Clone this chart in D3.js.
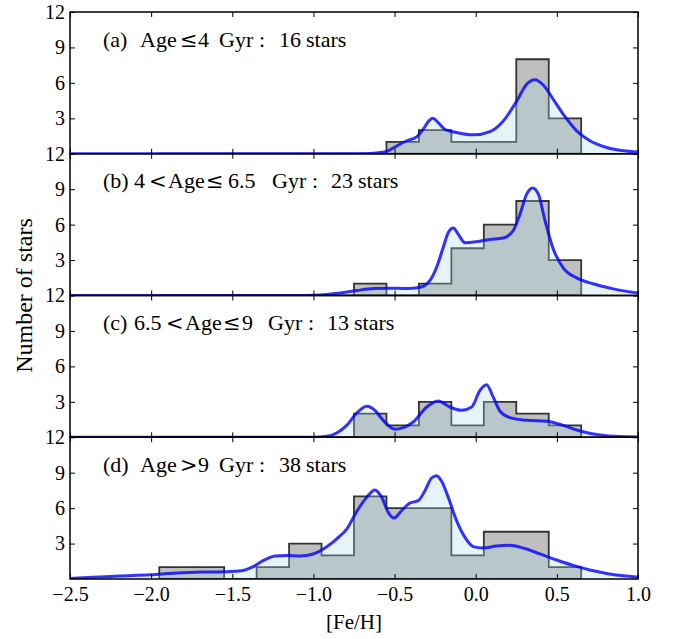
<!DOCTYPE html>
<html lang="en">
<head>
<meta charset="utf-8">
<title>[Fe/H] distribution by age</title>
<script src="https://cdnjs.cloudflare.com/ajax/libs/d3/7.8.5/d3.min.js"></script>
<style>
  body { margin: 0; background: #fff; }
  svg text { font-family: "Liberation Serif", "DejaVu Serif", serif; fill: #000; }
  tspan.sym { font-family: "DejaVu Serif", serif; font-size: 21px; }
</style>
</head>
<body>
<script>
// histogram bin edges in [Fe/H] (shared by all panels)
var binEdges = [-1.95, -1.75, -1.55, -1.35, -1.15, -0.95, -0.75, -0.55, -0.35, -0.15, 0.05, 0.25, 0.45, 0.65];

// star counts per bin
var histA = [0, 0, 0, 0, 0, 0, 0, 1, 2, 1, 1, 8, 3];
var histB = [0, 0, 0, 0, 0, 0, 1, 0, 1, 4, 6, 8, 3];
var histC = [0, 0, 0, 0, 0, 0, 2, 1, 3, 1, 3, 2, 1];
var histD = [1, 1, 0, 1, 3, 2, 7, 6, 6, 2, 4, 4, 1];

// smoothed density curves, [Fe/H, stars]
var kdeA = [[-2.5, 0], [-1.5, 0], [-0.8, 0], [-0.65, 0.02], [-0.6, 0.08], [-0.549, 0.2], [-0.487, 0.65],
  [-0.425, 1.1], [-0.364, 1.43], [-0.323, 2.08], [-0.292, 2.73], [-0.265, 3.01], [-0.231, 2.64],
  [-0.189, 2.05], [-0.117, 1.8], [-0.015, 1.6], [0.088, 1.88], [0.17, 2.78], [0.252, 4.45],
  [0.314, 5.88], [0.365, 6.27], [0.416, 5.82], [0.478, 4.61], [0.539, 3.35], [0.622, 1.94],
  [0.704, 1.1], [0.807, 0.53], [0.909, 0.25], [1.0, 0.15]];
var kdeB = [[-2.5, 0], [-1.5, 0], [-1.05, 0], [-0.918, 0.08], [-0.836, 0.22], [-0.733, 0.42],
  [-0.631, 0.59], [-0.528, 0.62], [-0.425, 0.59], [-0.343, 0.7], [-0.282, 1.27], [-0.241, 2.39],
  [-0.2, 4.08], [-0.169, 5.34], [-0.138, 5.71], [-0.108, 5.2], [-0.066, 4.47], [0.006, 4.56],
  [0.088, 4.75], [0.17, 4.87], [0.231, 5.49], [0.273, 6.89], [0.314, 8.58], [0.351, 9.09],
  [0.386, 8.58], [0.427, 6.33], [0.478, 3.94], [0.539, 2.34], [0.622, 1.49], [0.724, 0.99],
  [0.848, 0.56], [1.0, 0.2]];
var kdeC = [[-2.5, 0], [-1.5, 0], [-1.0, 0], [-0.918, 0.08], [-0.857, 0.36], [-0.795, 1.01],
  [-0.733, 2.05], [-0.672, 2.62], [-0.621, 2.28], [-0.57, 1.43], [-0.497, 0.68], [-0.446, 0.82],
  [-0.385, 1.29], [-0.302, 2.56], [-0.231, 3.07], [-0.159, 2.56], [-0.087, 2.28], [-0.025, 2.56],
  [0.026, 3.97], [0.067, 4.45], [0.108, 3.4], [0.149, 2.22], [0.211, 1.66], [0.314, 1.43],
  [0.437, 1.35], [0.539, 1.01], [0.642, 0.53], [0.766, 0.19], [0.889, 0.06], [1.0, 0.03]];
var kdeD = [[-2.5, 0.05], [-2.356, 0.14], [-2.192, 0.25], [-2.007, 0.36], [-1.843, 0.51],
  [-1.679, 0.59], [-1.535, 0.62], [-1.443, 0.7], [-1.371, 1.04], [-1.31, 1.55], [-1.237, 1.95],
  [-1.165, 2.0], [-1.083, 1.95], [-1.001, 2.12], [-0.918, 2.73], [-0.836, 3.65], [-0.795, 4.23],
  [-0.733, 5.72], [-0.672, 6.91], [-0.621, 7.54], [-0.579, 6.91], [-0.539, 5.64], [-0.504, 5.16],
  [-0.457, 5.78], [-0.406, 6.43], [-0.354, 6.63], [-0.313, 7.48], [-0.272, 8.55], [-0.241, 8.75],
  [-0.21, 8.27], [-0.169, 6.91], [-0.118, 4.94], [-0.066, 3.52], [-0.015, 2.74], [0.046, 2.62],
  [0.129, 2.79], [0.211, 2.85], [0.293, 2.62], [0.396, 2.12], [0.499, 1.61], [0.601, 1.15],
  [0.704, 0.76], [0.807, 0.47], [0.909, 0.28], [1.0, 0.17]];

// panel captions, split into the pieces of the original mathtext
var labelA = ["(a)", "Age", "\u2264", "4", "Gyr", ":", "16", "stars"];
var labelB = ["(b)", "4", "<", "Age", "\u2264", "6.5", "Gyr", ":", "23", "stars"];
var labelC = ["(c)", "6.5", "<", "Age", "\u2264", "9", "Gyr", ":", "13", "stars"];
var labelD = ["(d)", "Age", ">", "9", "Gyr", ":", "38", "stars"];

var xTicks = [-2.5, -2.0, -1.5, -1.0, -0.5, 0.0, 0.5, 1.0];
var yTicks = [3, 6, 9, 12];

var panels = [
  {label: labelA, hist: histA, kde: kdeA},
  {label: labelB, hist: histB, kde: kdeB},
  {label: labelC, hist: histC, kde: kdeC},
  {label: labelD, hist: histD, kde: kdeD}
];

var width = 676, height = 639;
var plotLeft = 70, plotRight = 638, plotTop = 12, plotBottom = 579;
var ph = (plotBottom - plotTop) / panels.length;
// where each caption piece starts, in pixels
var labelPieceX = [
  [103, 140, 180, 198, 219, 259, 279, 306],
  [103, 134, 149, 168, 206, 228, 272, 312, 331, 358],
  [103, 134, 166, 185, 223, 242, 268, 308, 327, 354],
  [103, 140, 180, 198, 219, 259, 279, 306]
];

var svg = d3.select("body").append("svg")
    .attr("width", width)
    .attr("height", height);

var x = d3.scaleLinear().domain([-2.5, 1.0]).range([plotLeft, plotRight]);

panels.forEach(function(p, i) {
    var y0 = plotTop + i * ph;
    var y = d3.scaleLinear().domain([0, 12]).range([y0 + ph, y0]);
    var g = svg.append("g");

    g.append("clipPath").attr("id", "clip" + i)
      .append("rect")
        .attr("x", plotLeft).attr("y", y0)
        .attr("width", plotRight - plotLeft).attr("height", ph);

    var plot = g.append("g").attr("clip-path", "url(#clip" + i + ")");

    // step histogram: one point per left edge, plus the closing right edge
    var steps = p.hist.map(function(c, k) { return [binEdges[k], c]; });
    steps.push([binEdges[binEdges.length - 1], p.hist[p.hist.length - 1]]);

    plot.append("path")
        .datum(steps)
        .attr("d", d3.area()
            .curve(d3.curveStepAfter)
            .x(function(d) { return x(d[0]); })
            .y0(y(0))
            .y1(function(d) { return y(d[1]); }))
        .attr("fill", "#bfbfbf")
        .attr("stroke", "#333")
        .attr("stroke-width", 1.8)
        .attr("stroke-linejoin", "miter");

    plot.append("path")
        .datum(p.kde)
        .attr("d", d3.area()
            .curve(d3.curveMonotoneX)
            .x(function(d) { return x(d[0]); })
            .y0(y(0))
            .y1(function(d) { return y(d[1]); }))
        .attr("fill", "lightblue")
        .attr("fill-opacity", 0.3);

    plot.append("path")
        .datum(p.kde)
        .attr("d", d3.line()
            .curve(d3.curveMonotoneX)
            .x(function(d) { return x(d[0]); })
            .y(function(d) { return y(d[1]); }))
        .attr("fill", "none")
        .attr("stroke", "blue")
        .attr("stroke-opacity", 0.8)
        .attr("stroke-width", 3);

    // ticks point inwards on all four sides
    var axL = g.append("g").attr("transform", "translate(" + plotLeft + ",0)")
        .call(d3.axisLeft(y).tickValues(yTicks).tickSize(-5).tickPadding(5));
    var axR = g.append("g").attr("transform", "translate(" + plotRight + ",0)")
        .call(d3.axisRight(y).tickValues(yTicks).tickSize(-5).tickFormat(""));
    var axT = g.append("g").attr("transform", "translate(0," + y0 + ")")
        .call(d3.axisTop(x).tickValues(xTicks).tickSize(-5).tickFormat(""));
    var axB = g.append("g").attr("transform", "translate(0," + (y0 + ph) + ")")
        .call(d3.axisBottom(x).tickValues(xTicks).tickSize(-5).tickPadding(8)
            .tickFormat(i === panels.length - 1 ? d3.format(".1f") : ""));

    [axL, axR, axT, axB].forEach(function(a) {
        a.select(".domain").remove();
        a.selectAll("line").attr("stroke", "#000").attr("stroke-width", 1);
        a.selectAll("text").attr("font-size", 20)
            .attr("font-family", "Liberation Serif, DejaVu Serif, serif");
    });

    g.append("rect")
        .attr("x", plotLeft).attr("y", y0)
        .attr("width", plotRight - plotLeft).attr("height", ph)
        .attr("fill", "none")
        .attr("stroke", "#000")
        .attr("stroke-width", 1.5);

    g.append("text")
        .attr("y", y0 + 34.5)
        .attr("font-size", 22)
      .selectAll("tspan")
      .data(p.label)
      .join("tspan")
        .attr("class", function(d) { return /^[<>\u2264]$/.test(d) ? "sym" : null; })
        .attr("x", function(d, k) { return labelPieceX[i][k]; })
        .text(function(d) { return d; });
});

svg.append("text")
    .attr("x", 354)
    .attr("y", 629)
    .attr("text-anchor", "middle")
    .attr("font-size", 21)
    .text("[Fe/H]");

svg.append("text")
    .attr("transform", "translate(32," + ((plotTop + plotBottom) / 2) + ") rotate(-90)")
    .attr("text-anchor", "middle")
    .attr("font-size", 24)
    .text("Number of stars");
</script>
</body>
</html>
